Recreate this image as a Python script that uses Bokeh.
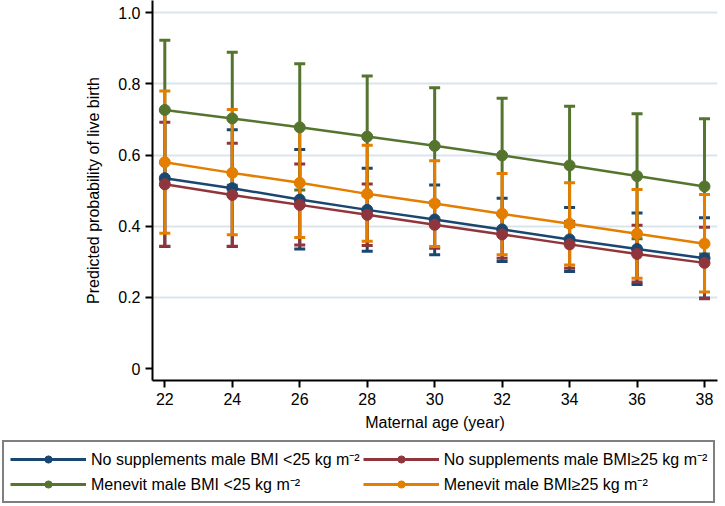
from bokeh.plotting import figure
from bokeh.layouts import column
from bokeh.models import (Whisker, TeeHead, ColumnDataSource, Legend, LegendItem,
                          FixedTicker, Range1d)
from bokeh.embed import file_html
from bokeh.resources import INLINE

# ---- data ----
age = [22, 24, 26, 28, 30, 32, 34, 36, 38]
x_ticks = [22, 24, 26, 28, 30, 32, 34, 36, 38]
y_ticks = [0, 0.2, 0.4, 0.6, 0.8, 1.0]
y_tick_labels = ["0", "0.2", "0.4", "0.6", "0.8", "1.0"]
grid_ticks = [0.2, 0.4, 0.6, 0.8, 1.0]

series_names = [
    "No supplements male BMI <25 kg m\u207b\u00b2",
    "No supplements male BMI\u226525 kg m\u207b\u00b2",
    "Menevit male BMI <25 kg m\u207b\u00b2",
    "Menevit male BMI\u226525 kg m\u207b\u00b2",
]

blue_est = [0.535, 0.507, 0.475, 0.446, 0.419, 0.391, 0.363, 0.336, 0.310]
blue_lo = [0.343, 0.343, 0.336, 0.330, 0.320, 0.301, 0.273, 0.236, 0.198]
blue_hi = [0.726, 0.671, 0.616, 0.563, 0.516, 0.479, 0.453, 0.437, 0.424]

red_est = [0.518, 0.488, 0.460, 0.432, 0.404, 0.377, 0.349, 0.322, 0.297]
red_lo = [0.344, 0.344, 0.347, 0.346, 0.338, 0.310, 0.282, 0.243, 0.196]
red_hi = [0.692, 0.633, 0.575, 0.519, 0.468, 0.436, 0.413, 0.403, 0.397]

green_est = [0.727, 0.703, 0.678, 0.652, 0.626, 0.599, 0.571, 0.541, 0.512]
green_lo = [0.530, 0.515, 0.502, 0.486, 0.462, 0.432, 0.400, 0.365, 0.322]
green_hi = [0.923, 0.889, 0.857, 0.822, 0.789, 0.760, 0.737, 0.716, 0.702]

orange_est = [0.580, 0.550, 0.522, 0.491, 0.464, 0.435, 0.407, 0.379, 0.351]
orange_lo = [0.380, 0.376, 0.368, 0.358, 0.343, 0.320, 0.291, 0.254, 0.215]
orange_hi = [0.780, 0.728, 0.676, 0.628, 0.584, 0.548, 0.522, 0.503, 0.489]

colors = ["#1a476f", "#90353b", "#55752f", "#e37e00"]

series = [
    (blue_est, blue_lo, blue_hi),
    (red_est, red_lo, red_hi),
    (green_est, green_lo, green_hi),
    (orange_est, orange_lo, orange_hi),
]

FONT = "Liberation Sans"

p = figure(width=725, height=440, output_backend="svg", toolbar_location=None,
           x_range=Range1d(21.635, 38.385), y_range=Range1d(-0.0337, 1.0346),
           min_border_left=152, min_border_right=8, min_border_top=0,
           min_border_bottom=60)
p.frame_align = False
p.outline_line_color = None
p.background_fill_color = "white"
p.border_fill_color = "white"

# axes
for ax in (p.xaxis[0], p.yaxis[0]):
    ax.axis_line_color = "black"
    ax.axis_line_width = 2
    ax.major_tick_line_color = "black"
    ax.major_tick_line_width = 2
    ax.major_tick_in = 0
    ax.major_tick_out = 7
    ax.minor_tick_line_color = None
    ax.major_label_text_font = FONT
    ax.major_label_text_font_size = "16px"
    ax.major_label_text_color = "black"
    ax.axis_label_text_font = FONT
    ax.axis_label_text_font_size = "16px"
    ax.axis_label_text_font_style = "normal"
    ax.axis_label_text_color = "black"
    ax.major_label_standoff = 5

p.xaxis.ticker = FixedTicker(ticks=x_ticks)
p.yaxis.ticker = FixedTicker(ticks=y_ticks)
p.yaxis.major_label_overrides = {t: l for t, l in zip(y_ticks, y_tick_labels)}
p.xaxis.axis_label = "Maternal age (year)"
p.yaxis.axis_label = "Predicted probability of live birth"
p.xaxis.axis_label_standoff = 6
p.yaxis.axis_label_standoff = 13

p.xgrid.visible = False
p.ygrid.ticker = FixedTicker(ticks=grid_ticks)
p.ygrid.grid_line_color = "#dae5eb"
p.ygrid.grid_line_width = 2

# confidence intervals
for (est, lo, hi), c in zip(series, colors):
    src = ColumnDataSource(dict(x=age, lo=lo, hi=hi))
    w = Whisker(base="x", lower="lo", upper="hi", source=src,
                line_color=c, line_width=3, level="underlay",
                upper_head=TeeHead(size=11, line_color=c, line_width=3),
                lower_head=TeeHead(size=11, line_color=c, line_width=3))
    p.add_layout(w)

# lines + markers
for (est, lo, hi), c in zip(series, colors):
    p.line(age, est, line_color=c, line_width=2.5)
    p.scatter(age, est, size=11, fill_color=c, line_color=c)

# ---- legend strip (a second figure holding only the legend) ----
pl = figure(width=725, height=66, output_backend="svg", toolbar_location=None,
            x_range=Range1d(0, 1), y_range=Range1d(0, 1),
            min_border=0, x_axis_type=None, y_axis_type=None)
pl.frame_align = False
pl.outline_line_color = None
pl.grid.visible = False
pl.background_fill_color = "white"
pl.border_fill_color = "white"

items = []
for (est, lo, hi), c, name in zip(series, colors, series_names):
    lr = pl.line(age, est, line_color=c, line_width=3, visible=False)
    sr = pl.scatter(age, est, size=11, fill_color=c, line_color=c, visible=False)
    items.append(LegendItem(label=name, renderers=[lr, sr]))

legend = Legend(items=[items[0], items[2], items[1], items[3]],
                orientation="vertical", nrows=2,
                location=(2, 3), click_policy="none",
                label_text_font=FONT, label_text_font_size="16px",
                label_text_color="black",
                glyph_width=76, glyph_height=18, label_standoff=5,
                label_height=18, spacing=3, padding=6, margin=0,
                border_line_color="black", border_line_width=2,
                background_fill_color="white", background_fill_alpha=1)
pl.add_layout(legend, "center")

layout = column(p, pl, spacing=0)
open("out.html", "w").write(file_html(layout, INLINE))
